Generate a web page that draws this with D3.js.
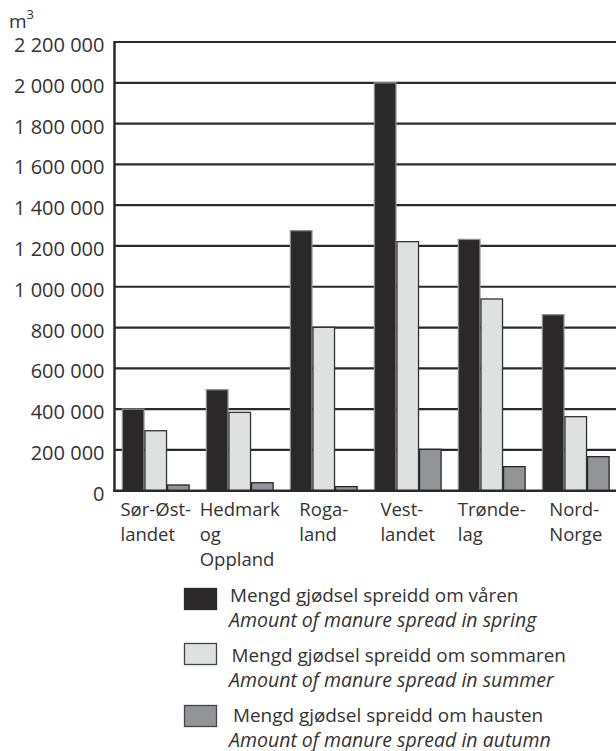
<!DOCTYPE html>
<html>
<head>
<meta charset="utf-8">
<script src="https://cdn.jsdelivr.net/npm/d3@7"></script>
<style>
  body { margin: 0; background: #fff; }
  svg text { font-family: "Open Sans", sans-serif; fill: #333; }
</style>
</head>
<body>
<div id="chart"></div>
<script>
// regions (label lines as printed)
var regions = ['Sør-Østlandet', 'Hedmark og Oppland', 'Rogaland', 'Vestlandet', 'Trøndelag', 'Nord-Norge'];
var regionLines = [
  ['Sør-Øst-', 'landet'],
  ['Hedmark', 'og', 'Oppland'],
  ['Roga-', 'land'],
  ['Vest-', 'landet'],
  ['Trønde-', 'lag'],
  ['Nord-', 'Norge']
];

// m3 of manure spread
var spring = [400000, 495000, 1275000, 2000000, 1232000, 863000];
var summer = [294000, 384000, 801000, 1221000, 940000, 363000];
var autumn = [28000, 39000, 20000, 203000, 118000, 167000];

var seasons = ['spring', 'summer', 'autumn'];
var legendNo = ['Mengd gjødsel spreidd om våren', 'Mengd gjødsel spreidd om sommaren', 'Mengd gjødsel spreidd om hausten'];
var legendEn = ['Amount of manure spread in spring', 'Amount of manure spread in summer', 'Amount of manure spread in autumn'];

var yTicks = d3.range(0, 2200001, 200000);

(function() {

  var width = 616, height = 751;
  var left = 114.5, right = 617, plotTop = 42, plotBottom = 490.7;

  var colors = { spring: '#2a2829', summer: '#dde2e1', autumn: '#929598' };
  var strokes = { spring: '#8d8d8d', summer: '#333', autumn: '#2a2829' };

  var svg = d3.select('#chart')
              .append('svg')
              .attr('width', width)
              .attr('height', height);

  var x0 = d3.scaleBand()
             .domain(regions)
             .range([left, right])
             .paddingInner(0.194)
             .paddingOuter(0.088);

  var x1 = d3.scaleBand()
             .domain(seasons)
             .range([0, x0.bandwidth()]);

  var y = d3.scaleLinear()
            .domain([0, 2200000])
            .range([plotBottom, plotTop]);

  var fmt = function(v) {
    return d3.format(',')(v).replace(/,/g, ' ');
  };

  // grid lines
  svg.append('g')
     .selectAll('line')
     .data(yTicks.slice(1))
     .enter().append('line')
     .attr('x1', left)
     .attr('x2', width)
     .attr('y1', function(d) { return y(d); })
     .attr('y2', function(d) { return y(d); })
     .attr('stroke', '#2b2a2a')
     .attr('stroke-width', 2.2);

  // y axis labels
  var yAxis = svg.append('g')
                 .attr('transform', 'translate(' + left + ',0)')
                 .call(d3.axisLeft(y).tickValues(yTicks).tickFormat(fmt).tickSize(0).tickPadding(10));
  yAxis.select('.domain').remove();
  yAxis.selectAll('text')
       .attr('dy', null)
       .attr('y', 9.5)
       .style('font-size', '20px')
       .style('font-family', '"Open Sans", sans-serif')
       .attr('fill', '#333');

  // m3 unit
  var unit = svg.append('text')
                .attr('x', 9)
                .attr('y', 28)
                .style('font-size', '19px');
  unit.append('tspan').text('m');
  unit.append('tspan').attr('dy', -9).style('font-size', '13px').text('3');

  // bars
  var rows = regions.map(function(r, i) {
    return { region: r, spring: spring[i], summer: summer[i], autumn: autumn[i] };
  });

  var groups = svg.append('g')
                  .selectAll('g')
                  .data(rows)
                  .enter().append('g')
                  .attr('transform', function(d) { return 'translate(' + x0(d.region) + ',0)'; });

  groups.selectAll('rect')
        .data(function(d) { return seasons.map(function(s) { return { key: s, value: d[s] }; }); })
        .enter().append('rect')
        .attr('x', function(d) { return x1(d.key) + 0.5; })
        .attr('width', x1.bandwidth() - 1)
        .attr('y', function(d) { return y(d.value); })
        .attr('height', function(d) { return plotBottom - y(d.value); })
        .attr('fill', function(d) { return colors[d.key]; })
        .attr('stroke', function(d) { return strokes[d.key]; })
        .attr('stroke-width', 1.3);

  // axis lines
  svg.append('line')
     .attr('x1', left).attr('x2', left)
     .attr('y1', plotTop - 1).attr('y2', plotBottom + 1.2)
     .attr('stroke', '#2b2a2a')
     .attr('stroke-width', 2.5);
  svg.append('line')
     .attr('x1', left - 1.2).attr('x2', width)
     .attr('y1', plotBottom).attr('y2', plotBottom)
     .attr('stroke', '#2b2a2a')
     .attr('stroke-width', 2.5);

  // category labels, block centred under group, lines left aligned
  var lab = svg.append('g')
               .selectAll('text')
               .data(regions)
               .enter().append('text')
               .style('font-size', '18.5px');

  lab.each(function(r, i) {
    var t = d3.select(this);
    regionLines[i].forEach(function(l, j) {
      t.append('tspan').attr('y', 516 + j * 25).text(l);
    });
    var w = d3.max(t.selectAll('tspan').nodes(), function(n) { return n.getComputedTextLength(); });
    var cx = x0(r) + x0.bandwidth() / 2 - w / 2;
    t.selectAll('tspan').attr('x', cx);
  });

  // legend
  var swatchTop = [588, 643, 705];
  var textBase = [602, 662, 722];
  var leg = svg.append('g')
               .selectAll('g')
               .data(seasons)
               .enter().append('g');

  leg.append('rect')
     .attr('x', 184.5)
     .attr('y', function(d, i) { return swatchTop[i] + 0.5; })
     .attr('width', 32).attr('height', 21)
     .attr('fill', function(d) { return colors[d]; })
     .attr('stroke', function(d) { return d == 'spring' ? colors[d] : '#444'; })
     .attr('stroke-width', 1.3);

  leg.append('text')
     .attr('x', function(d, i) { return 230 + i * 1.5; })
     .attr('y', function(d, i) { return textBase[i]; })
     .style('font-size', '18.9px')
     .text(function(d, i) { return legendNo[i]; });

  leg.append('text')
     .attr('x', 229)
     .attr('y', function(d, i) { return textBase[i] + 24.5; })
     .style('font-size', '19.5px')
     .style('font-style', 'italic')
     .text(function(d, i) { return legendEn[i]; });

})();
</script>
</body>
</html>
